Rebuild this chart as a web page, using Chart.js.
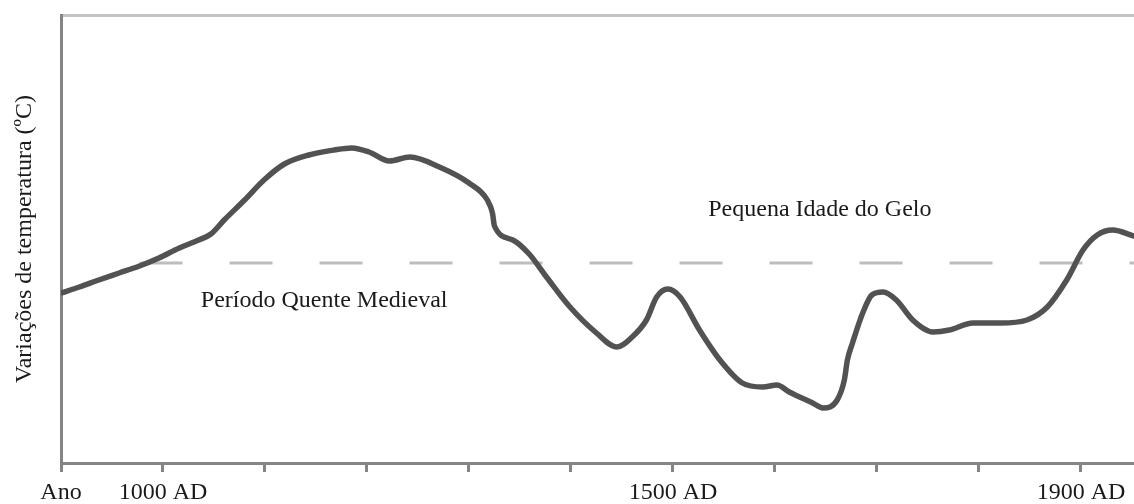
<!DOCTYPE html>
<html>
<head>
<meta charset="utf-8">
<script src="https://cdn.jsdelivr.net/npm/chart.js@4.4.1/dist/chart.umd.min.js"></script>
<style>
  html, body { margin: 0; padding: 0; background: #fff; }
  #wrap { width: 1134px; height: 504px; position: relative; }
</style>
</head>
<body>
<div id="wrap"><canvas id="tempChart"></canvas></div>
<script>
// Temperature curve (year, relative anomaly)
const years = [900, 918, 937, 957, 977, 996, 1016, 1035, 1047, 1060,
  1080, 1099, 1119, 1143, 1168, 1185, 1202, 1222, 1242, 1271,
  1300, 1318, 1323, 1325, 1343, 1359, 1376, 1399, 1425, 1445,
  1460, 1474, 1484, 1495, 1507, 1526, 1546, 1568, 1588, 1602,
  1614, 1637, 1647, 1661, 1668, 1671, 1676, 1686, 1695, 1706,
  1719, 1735, 1755, 1771, 1794, 1821, 1847, 1867, 1886, 1902,
  1916, 1931, 1952];
const temps = [-0.15, -0.12, -0.085, -0.05, -0.015, 0.025, 0.075, 0.115, 0.145, 0.215,
  0.315, 0.415, 0.495, 0.54, 0.565, 0.575, 0.555, 0.51, 0.53, 0.48,
  0.4, 0.315, 0.25, 0.185, 0.115, 0.045, -0.07, -0.22, -0.35, -0.42,
  -0.37, -0.285, -0.17, -0.13, -0.17, -0.335, -0.485, -0.6, -0.62, -0.61,
  -0.645, -0.7, -0.725, -0.685, -0.585, -0.485, -0.4, -0.25, -0.16, -0.145,
  -0.185, -0.285, -0.345, -0.335, -0.3, -0.3, -0.285, -0.22, -0.085, 0.065,
  0.14, 0.165, 0.135];

// reference (dashed) level
const refYears = [977, 1952];
const refLevel = 0;

// x axis ticks
const tickYears = [900, 1000, 1100, 1200, 1300, 1400, 1500, 1600, 1700, 1800, 1900];
const tickLabels = ['Ano', '1000 AD', '', '', '', '', '1500 AD', '', '', '', '1900 AD'];

// text annotations
const noteTexts = ['Período Quente Medieval', 'Pequena Idade do Gelo'];
const noteYears = [1158, 1644];
const noteValues = [-0.19, 0.265];

const serif = '"Liberation Serif", "DejaVu Serif", serif';

const notesPlugin = {
    id: 'notes',
    afterDatasetsDraw(chart) {
        const ctx = chart.ctx;
        const xs = chart.scales.x;
        const ys = chart.scales.y;
        ctx.save();
        ctx.font = '24px ' + serif;
        ctx.fillStyle = '#1a1a1a';
        ctx.textAlign = 'center';
        ctx.textBaseline = 'middle';
        noteTexts.forEach((t, i) => {
            ctx.fillText(t, xs.getPixelForValue(noteYears[i]), ys.getPixelForValue(noteValues[i]));
        });
        ctx.restore();
    }
};

const ctx = document.getElementById('tempChart').getContext('2d');
new Chart(ctx, {
    type: 'line',
    data: {
        datasets: [{
            data: refYears.map(y => ({ x: y, y: refLevel })),
            borderColor: '#bdbdbd',
            borderWidth: 3,
            borderDash: [43, 47],
            pointRadius: 0,
            order: 2
        }, {
            data: years.map((y, i) => ({ x: y, y: temps[i] })),
            borderColor: '#525252',
            borderWidth: 5.5,
            pointRadius: 0,
            cubicInterpolationMode: 'monotone',
            borderCapStyle: 'round',
            borderJoinStyle: 'round',
            order: 1
        }]
    },
    options: {
        responsive: true,
        maintainAspectRatio: false,
        animation: false,
        events: [],
        layout: { padding: { top: 15, left: 0, right: 0, bottom: 0 } },
        plugins: {
            legend: { display: false },
            tooltip: { enabled: false }
        },
        scales: {
            x: {
                type: 'linear',
                min: 900,
                max: 1952,
                afterBuildTicks: scale => {
                    scale.ticks = tickYears.map(v => ({ value: v }));
                },
                afterFit: scale => { scale.height = 41; },
                ticks: {
                    autoSkip: false,
                    maxRotation: 0,
                    padding: 6,
                    color: '#1a1a1a',
                    font: { family: serif, size: 24 },
                    callback: (value) => {
                        const i = tickYears.indexOf(value);
                        return i >= 0 ? tickLabels[i] : '';
                    }
                },
                grid: {
                    drawOnChartArea: false,
                    drawTicks: true,
                    tickLength: 9,
                    tickWidth: 3,
                    tickColor: '#858585'
                },
                border: { display: true, color: '#858585', width: 3 }
            },
            xTop: {
                type: 'linear',
                position: 'top',
                min: 900,
                max: 1952,
                afterFit: scale => { scale.height = 0; },
                ticks: { display: false },
                grid: { display: false },
                border: { display: true, color: '#c4c4c4', width: 3 }
            },
            y: {
                type: 'linear',
                min: -1,
                max: 1.24,
                afterFit: scale => { scale.width = 61; },
                ticks: { display: false },
                grid: { display: false },
                border: { display: true, color: '#858585', width: 3 },
                title: {
                    display: true,
                    text: 'Variações de temperatura (ºC)',
                    color: '#1a1a1a',
                    font: { family: serif, size: 24 },
                    padding: { top: 10, bottom: 0 }
                }
            }
        }
    },
    plugins: [notesPlugin]
});
</script>
</body>
</html>
